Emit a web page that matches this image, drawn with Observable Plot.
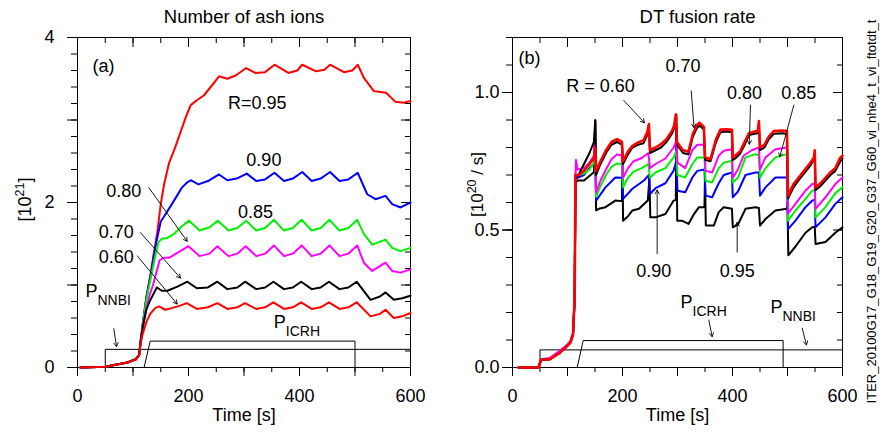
<!DOCTYPE html>
<html><head><meta charset="utf-8">
<script src="https://cdn.jsdelivr.net/npm/d3@7"></script>
<script src="https://cdn.jsdelivr.net/npm/@observablehq/plot@0.6"></script>
<style>
body{margin:0;background:#fff;}
#wrap{position:relative;width:882px;height:436px;overflow:hidden;background:#fff;}
#wrap svg{position:absolute;top:0;}
</style></head><body><div id="wrap"></div>
<script>
// ---------- Panel (a): number of ash ions [1e21] vs time [s] ----------
const ash095 = [[5,0],[50,0.01],[90,0.06],[105,0.10],[111,0.15],[114,0.33],[118,0.55],[124,0.85],[132,1.15],[138,1.40],[144,1.65],[150,1.98],[156,2.22],[165,2.48],[175,2.65],[186,2.86],[196,3.05],[204,3.18],[215,3.24],[228,3.30],[240,3.40],[255,3.53],[270,3.50],[285,3.54],[304,3.63],[320,3.57],[338,3.58],[355,3.67],[380,3.57],[396,3.60],[405,3.67],[430,3.59],[445,3.61],[455,3.67],[480,3.58],[495,3.60],[505,3.67],[516,3.51],[534,3.35],[546,3.34],[556,3.33],[573,3.22],[588,3.21],[600,3.23]];
const ash090 = [[12,0],[50,0.01],[90,0.06],[105,0.10],[111,0.15],[114,0.33],[118,0.55],[124,0.85],[132,1.12],[138,1.38],[144,1.58],[150,1.77],[156,1.83],[170,1.98],[188,2.18],[197,2.24],[204,2.27],[218,2.22],[235,2.26],[255,2.34],[270,2.27],[287,2.29],[305,2.35],[322,2.26],[338,2.28],[355,2.36],[372,2.26],[388,2.29],[405,2.37],[422,2.26],[438,2.29],[455,2.37],[472,2.26],[488,2.28],[505,2.36],[522,2.10],[537,2.04],[555,2.08],[567,1.98],[582,1.94],[600,2.00]];
const ash085 = [[5,0],[50,0.01],[90,0.06],[105,0.10],[111,0.15],[114,0.33],[118,0.55],[124,0.82],[132,1.08],[140,1.35],[146,1.52],[152,1.56],[162,1.57],[174,1.62],[186,1.70],[201,1.78],[220,1.66],[238,1.70],[253,1.78],[272,1.66],[288,1.69],[304,1.78],[322,1.66],[338,1.69],[354,1.79],[372,1.66],[388,1.69],[404,1.79],[422,1.66],[438,1.69],[454,1.79],[472,1.66],[488,1.69],[504,1.79],[516,1.62],[531,1.49],[555,1.55],[567,1.45],[582,1.41],[600,1.45]];
const ash080 = [[5,0],[50,0.01],[90,0.06],[105,0.10],[111,0.15],[114,0.33],[118,0.52],[124,0.72],[130,0.88],[136,1.00],[142,1.15],[148,1.30],[155,1.33],[165,1.33],[180,1.39],[200,1.47],[220,1.35],[238,1.38],[252,1.47],[272,1.35],[288,1.38],[303,1.47],[322,1.35],[338,1.38],[354,1.48],[372,1.35],[388,1.38],[404,1.48],[422,1.35],[438,1.38],[454,1.48],[472,1.35],[488,1.38],[504,1.48],[516,1.27],[531,1.17],[555,1.27],[567,1.17],[582,1.15],[600,1.19]];
const ash070 = [[5,0],[50,0.01],[90,0.06],[105,0.10],[111,0.15],[114,0.33],[118,0.50],[124,0.70],[130,0.80],[136,0.88],[143,0.97],[152,0.93],[162,0.93],[180,0.98],[198,1.04],[215,0.96],[235,0.97],[252,1.04],[270,0.95],[288,0.97],[302,1.04],[322,0.95],[338,0.97],[353,1.04],[372,0.95],[388,0.97],[403,1.04],[422,0.95],[438,0.97],[453,1.04],[472,0.95],[488,0.97],[503,1.04],[528,0.82],[545,0.86],[555,0.91],[570,0.82],[585,0.84],[600,0.87]];
const ash060 = [[5,0],[50,0.01],[90,0.06],[105,0.10],[111,0.15],[114,0.30],[118,0.42],[124,0.55],[131,0.65],[140,0.72],[147,0.74],[158,0.70],[170,0.72],[185,0.75],[197,0.78],[215,0.71],[235,0.73],[252,0.78],[270,0.71],[288,0.73],[302,0.78],[322,0.71],[338,0.73],[353,0.79],[372,0.71],[388,0.73],[403,0.79],[422,0.71],[438,0.73],[453,0.79],[472,0.71],[488,0.73],[503,0.79],[528,0.62],[545,0.65],[555,0.70],[570,0.60],[585,0.62],[600,0.66]];
const ashNNBI = [[50,0],[50,0.22],[600,0.22]];
const ashICRH = [[120,0],[131,0.32],[500,0.32],[500,0]];

// ---------- Panel (b): DT fusion rate [1e20/s] vs time [s] ----------
const dt060 = [[11,0],[47,0],[52,0.028],[68,0.03],[85,0.052],[95,0.07],[105,0.09],[110,0.12],[113,0.25],[114.5,0.70],[120,0.70],[130,0.715],[140,0.74],[148,0.76],[150.5,0.80],[152,0.715],[160,0.75],[170,0.79],[180,0.82],[190,0.83],[199,0.82],[201,0.75],[210,0.785],[218,0.806],[228,0.818],[238,0.826],[245,0.855],[248,0.885],[250,0.79],[260,0.80],[270,0.812],[280,0.83],[290,0.86],[294,0.88],[297,0.92],[299,0.82],[310,0.79],[320,0.785],[328,0.85],[335,0.88],[340,0.89],[348,0.875],[350,0.765],[360,0.757],[370,0.83],[378,0.865],[390,0.866],[399,0.864],[400.5,0.765],[405,0.77],[414,0.787],[422,0.82],[430,0.852],[440,0.858],[446,0.86],[448,0.896],[450,0.80],[458,0.81],[466,0.84],[475,0.86],[490,0.862],[499,0.86],[501,0.625],[511,0.667],[520,0.69],[530,0.715],[540,0.74],[548,0.763],[549.5,0.79],[551,0.655],[560,0.67],[569,0.69],[578,0.71],[587,0.725],[596,0.763],[600,0.77]];
const dt070 = [[11,0],[47,0],[52,0.028],[68,0.03],[85,0.052],[95,0.07],[105,0.09],[110,0.12],[113,0.25],[114.5,0.69],[120,0.70],[130,0.74],[140,0.78],[148,0.82],[150.5,0.90],[152,0.70],[160,0.74],[170,0.78],[180,0.81],[190,0.82],[199,0.81],[201,0.74],[210,0.775],[218,0.80],[228,0.81],[238,0.815],[245,0.845],[248,0.87],[250,0.78],[260,0.79],[270,0.80],[280,0.82],[290,0.85],[294,0.87],[297,0.91],[299,0.81],[310,0.78],[320,0.775],[328,0.84],[335,0.87],[340,0.88],[348,0.865],[350,0.755],[360,0.75],[370,0.82],[378,0.855],[390,0.858],[399,0.855],[400.5,0.755],[405,0.76],[414,0.778],[422,0.81],[430,0.845],[440,0.85],[446,0.852],[448,0.88],[450,0.79],[458,0.80],[466,0.83],[475,0.85],[490,0.852],[499,0.85],[501,0.615],[511,0.655],[520,0.68],[530,0.705],[540,0.73],[548,0.755],[549.5,0.78],[551,0.645],[560,0.66],[569,0.68],[578,0.70],[587,0.715],[596,0.75],[600,0.76]];
const dt080 = [[11,0],[47,0],[52,0.03],[68,0.035],[85,0.06],[95,0.075],[105,0.095],[110,0.125],[113,0.25],[114.5,0.70],[115.5,0.755],[118,0.72],[130,0.725],[140,0.745],[148,0.77],[150.5,0.896],[152,0.637],[160,0.68],[170,0.72],[180,0.757],[190,0.775],[199,0.77],[201,0.69],[210,0.725],[220,0.75],[235,0.762],[247,0.78],[250,0.725],[260,0.74],[278,0.76],[293,0.80],[298,0.824],[300,0.745],[314,0.725],[327,0.79],[336,0.81],[349,0.81],[351,0.715],[363,0.709],[375,0.77],[384,0.788],[399,0.794],[400.5,0.69],[410,0.72],[420,0.77],[435,0.79],[448,0.80],[450,0.72],[460,0.764],[478,0.794],[499,0.80],[501,0.56],[514.5,0.595],[532.7,0.643],[545,0.667],[549.5,0.67],[551,0.577],[569,0.619],[587,0.667],[600,0.691]];
const dt085 = [[11,0],[47,0],[52,0.028],[68,0.03],[85,0.052],[95,0.07],[105,0.09],[110,0.12],[113,0.25],[114.5,0.69],[118,0.70],[130,0.705],[140,0.72],[148,0.745],[150.5,0.76],[152,0.62],[160,0.66],[170,0.70],[180,0.73],[190,0.742],[199,0.74],[201,0.655],[210,0.69],[220,0.712],[235,0.725],[247,0.74],[250,0.69],[260,0.709],[278,0.725],[293,0.764],[298,0.788],[300,0.70],[314,0.691],[327,0.74],[336,0.764],[349,0.764],[351,0.679],[363,0.673],[375,0.725],[384,0.745],[399,0.752],[400.5,0.673],[410,0.69],[423.6,0.764],[442,0.776],[448,0.772],[450,0.69],[460,0.725],[478,0.764],[499,0.776],[501,0.534],[514.5,0.571],[532.7,0.613],[545,0.643],[549.5,0.645],[551,0.546],[569,0.583],[587,0.634],[600,0.655]];
const dt090 = [[11,0],[47,0],[52,0.028],[68,0.03],[85,0.052],[95,0.07],[105,0.09],[110,0.12],[113,0.25],[114.5,0.68],[118,0.69],[130,0.70],[142,0.73],[148,0.74],[150.5,0.745],[152,0.607],[169,0.655],[187,0.691],[199,0.69],[201,0.613],[218,0.65],[239,0.68],[248,0.70],[250,0.631],[260,0.652],[278,0.67],[293,0.716],[298,0.752],[300,0.643],[314,0.637],[327,0.691],[336,0.715],[349,0.72],[351,0.625],[363,0.619],[375,0.67],[384,0.70],[399,0.709],[400.5,0.619],[410,0.64],[423.6,0.70],[442,0.709],[448,0.709],[450,0.625],[460,0.655],[478,0.691],[499,0.691],[501,0.503],[514.5,0.534],[532.7,0.583],[545,0.607],[549.5,0.61],[551,0.51],[569,0.546],[587,0.595],[600,0.619]];
const dt095 = [[11,0],[47,0],[52,0.028],[68,0.03],[85,0.052],[95,0.07],[105,0.09],[110,0.12],[113,0.25],[114.5,0.67],[118,0.68],[130,0.68],[142,0.70],[148,0.71],[150.5,0.896],[152,0.571],[157,0.577],[169,0.583],[187,0.607],[199,0.605],[200,0.75],[201,0.534],[210,0.55],[218,0.571],[230,0.577],[246,0.607],[249,0.69],[250.5,0.546],[260,0.546],[278,0.558],[293,0.607],[297,0.61],[298,0.92],[299.5,0.534],[308,0.534],[320,0.522],[330,0.558],[339,0.583],[349,0.583],[350,0.69],[351.5,0.516],[366,0.516],[375,0.565],[384,0.583],[399,0.577],[400.5,0.51],[410,0.52],[423.6,0.577],[441.8,0.583],[448,0.58],[450,0.516],[460,0.54],[478,0.571],[499,0.577],[500,0.60],[501.5,0.408],[514.5,0.44],[532.7,0.49],[545,0.51],[549.5,0.512],[551,0.449],[569,0.456],[587,0.49],[600,0.51]];
const dtNNBI = [[50,0],[50,0.064],[600,0.064]];
const dtICRH = [[117.6,0],[128.5,0.098],[492,0.098],[492,0]];

// ---------- ticks ----------
const xMinor = [0,50,100,150,200,250,300,350,400,450,500,550,600];
const xMajor = [0,100,200,300,400,500,600];
const xLabels = [0,200,400,600];
const yMinorA = [0,0.2,0.4,0.6,0.8,1,1.2,1.4,1.6,1.8,2,2.2,2.4,2.6,2.8,3,3.2,3.4,3.6,3.8,4];
const yMajorA = [0,1,2,3,4];
const yLabelsA = [0,2,4];
const yMinorB = [0,0.1,0.2,0.3,0.4,0.5,0.6,0.7,0.8,0.9,1.0,1.1,1.2];
const yMajorB = [0,0.5,1.0];
const yLabelsB = [0,0.5,1.0];

const FONT = "'Liberation Sans', Arial, Helvetica, sans-serif";
const GREEN = "#00f000";
const rows = pts => pts.map(([t, v]) => ({t, v}));
const blank = () => "";

function frameAxes(yMinor, yMajor, yLabels, yFmt, yPad) {
  return [
    Plot.frame({stroke: "black", strokeWidth: 1}),
    Plot.axisX({ticks: xMinor, tickSize: 5, tickFormat: blank, label: null}),
    Plot.axisX({ticks: xMajor, tickSize: 9, tickFormat: blank, label: null}),
    Plot.axisX({ticks: xLabels, tickSize: 9, tickPadding: 13, tickFormat: d => String(d), label: null, fontSize: 18}),
    Plot.axisX({anchor: "top", ticks: xMinor, tickSize: -5, tickFormat: blank, label: null}),
    Plot.axisX({anchor: "top", ticks: xMajor, tickSize: -9, tickFormat: blank, label: null}),
    Plot.axisY({ticks: yMinor, tickSize: 6, tickFormat: blank, label: null}),
    Plot.axisY({ticks: yMajor, tickSize: 10, tickFormat: blank, label: null}),
    Plot.axisY({ticks: yLabels, tickSize: 10, tickPadding: yPad, tickFormat: yFmt, label: null, fontSize: 18}),
    Plot.axisY({anchor: "right", ticks: yMinor, tickSize: -6, tickFormat: blank, label: null}),
    Plot.axisY({anchor: "right", ticks: yMajor, tickSize: -10, tickFormat: blank, label: null})
  ];
}
const ln = (pts, color, w = 2) => Plot.line(rows(pts), {x: "t", y: "v", stroke: color, strokeWidth: w, strokeLinejoin: "round"});
const box = pts => Plot.line(rows(pts), {x: "t", y: "v", stroke: "black", strokeWidth: 1});
const lab = (s, t, v, anchor = "middle") => Plot.text([s], {x: () => t, y: () => v, text: d => d, fontSize: 18, textAnchor: anchor, fill: "black"});
const arr = (t1, v1, t2, v2) => Plot.arrow([0], {x1: () => t1, y1: () => v1, x2: () => t2, y2: () => v2, stroke: "black", strokeWidth: 0.9, headLength: 7});

const styleObj = {fontFamily: FONT, fontSize: "18px", background: "white", color: "black", overflow: "visible"};

const left = Plot.plot({
  width: 441, height: 436,
  marginLeft: 77, marginRight: 31, marginTop: 37, marginBottom: 69,
  x: {domain: [0, 600]}, y: {domain: [0, 4]},
  style: styleObj,
  marks: [
    ...frameAxes(yMinorA, yMajorA, yLabelsA, d => String(d), 13),
    box(ashNNBI), box(ashICRH),
    ln(ash095, "#ff0000"), ln(ash090, "#0000ff"), ln(ash085, GREEN),
    ln(ash080, "#ff00ff"), ln(ash070, "black"), ln(ash060, "#ff0000"),
    Plot.text(["Number of ash ions"], {frameAnchor: "top", dy: -20, lineAnchor: "middle", textAnchor: "middle", fontSize: 18.5}),
    Plot.text(["Time [s]"], {frameAnchor: "bottom", dy: 48, lineAnchor: "middle", textAnchor: "middle", fontSize: 18}),
    Plot.text(["[10^{21}]"], {frameAnchor: "left", dx: -52, dy: -3, rotate: -90, textAnchor: "middle", lineAnchor: "middle", fontSize: 18}),
    lab("(a)", 27, 3.65, "start"),
    lab("R=0.95", 323.7, 3.20), lab("0.90", 335.8, 2.51), lab("0.85", 320.7, 1.877),
    lab("0.80", 83.4, 2.14), lab("0.70", 70, 1.645), lab("0.60", 70, 1.333),
    lab("P_{NNBI}", 14.4, 0.93, "start"), lab("P_{ICRH}", 353.7, 0.547, "start"),
    arr(128.5, 2.18, 197.6, 1.53), arr(113.5, 1.635, 185.6, 1.084), arr(107.6, 1.353, 179.6, 0.77),
    arr(65.4, 0.47, 70.3, 0.254)
  ]
});

const right = Plot.plot({
  width: 441, height: 436,
  marginLeft: 71, marginRight: 40, marginTop: 37, marginBottom: 69,
  x: {domain: [0, 600]}, y: {domain: [0, 1.2]},
  style: styleObj,
  marks: [
    ...frameAxes(yMinorB, yMajorB, yLabelsB, d => d.toFixed(1), 3),
    box(dtNNBI), box(dtICRH),
    ln(dt095, "black"), ln(dt090, "#0000ff"), ln(dt085, GREEN),
    ln(dt080, "#ff00ff"), ln(dt070, "black"), ln(dt060, "#ff0000", 2.6),
    Plot.text(["DT fusion rate"], {frameAnchor: "top", dy: -20, dx: 20, lineAnchor: "middle", textAnchor: "middle", fontSize: 18.5}),
    Plot.text(["Time [s]"], {frameAnchor: "bottom", dy: 48, lineAnchor: "middle", textAnchor: "middle", fontSize: 18}),
    Plot.text(["[10^{20} / s]"], {frameAnchor: "left", dx: -35, dy: -18, rotate: -90, textAnchor: "middle", lineAnchor: "middle", fontSize: 17}),
    Plot.text(["ITER_20100G17_G18_G19_G20_G37_G60_vi_nhe4_t_vi_ftotdt_t"], {frameAnchor: "right", dx: 29, dy: 9, rotate: -90, textAnchor: "middle", lineAnchor: "middle", fontSize: 13}),
    lab("(b)", 11, 1.124, "start"),
    lab("R = 0.60", 160, 1.023), lab("0.70", 310, 1.095), lab("0.80", 422, 0.999), lab("0.85", 520.6, 0.999),
    lab("0.90", 257, 0.35), lab("0.95", 408.5, 0.35),
    lab("P_{ICRH}", 305.5, 0.239, "start"), lab("P_{NNBI}", 469, 0.218, "start"),
    arr(202.4, 0.971, 240, 0.89), arr(325, 1.005, 330, 0.872), arr(432.7, 0.954, 430.5, 0.812),
    arr(511.5, 0.954, 486, 0.766), arr(263, 0.414, 263, 0.645), arr(408.5, 0.42, 408.5, 0.528),
    arr(357, 0.1726, 363, 0.112), arr(526.7, 0.1425, 534.5, 0.082)
  ]
});

// rich text: ^{...} superscript, _{...} subscript
function richText(svg) {
  d3.select(svg).selectAll("text").each(function() {
    const s = this.textContent;
    if (!/[\^_]\{/.test(s)) return;
    const el = d3.select(this);
    el.text(null);
    const re = /([\^_])\{([^}]*)\}|([^\^_]+)/g;
    let m, shift = 0;
    while ((m = re.exec(s))) {
      if (m[3] !== undefined) {
        el.append("tspan").attr("dy", -shift).text(m[3]);
        shift = 0;
      } else {
        const d = m[1] === "^" ? -7 : 8;
        el.append("tspan").attr("dy", d - shift).attr("font-size", m[1] === "^" ? 12.5 : 14).text(m[2]);
        shift = d;
      }
    }
  });
}
richText(left); richText(right);
left.style.left = "0px";
right.style.left = "441px";
document.getElementById("wrap").append(left, right);
</script></body></html>
